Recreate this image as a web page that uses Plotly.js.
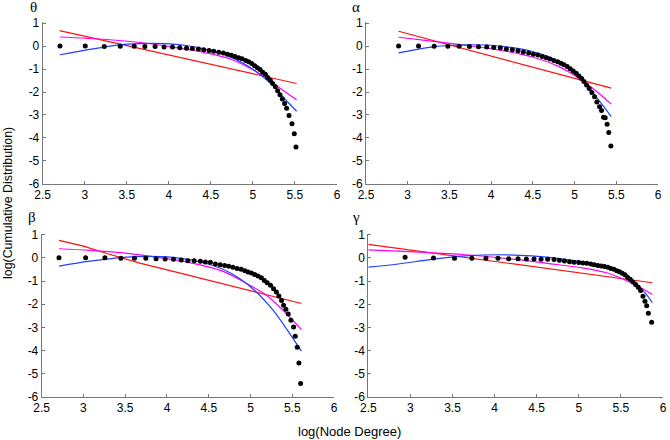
<!DOCTYPE html>
<html>
<head>
<meta charset="utf-8">
<script src="https://cdn.plot.ly/plotly-3.0.1.min.js"></script>
<style>html,body{margin:0;padding:0;background:#fff}#chart{width:670px;height:440px}</style>
</head>
<body>
<div id="chart"></div>
<script>
// ---- tick labels ----
var xTickVals = [2.5, 3, 3.5, 4, 4.5, 5, 5.5, 6];
var xTickText = ["2.5", "3", "3.5", "4", "4.5", "5", "5.5", "6"];
var yTickVals = [-6, -5, -4, -3, -2, -1, 0, 1];
var yTickText = ["-6", "-5", "-4", "-3", "-2", "-1", "0", "1"];
var panelTitles = ["θ", "α", "β", "γ"];

// ---- theta ----
var thetaX = [2.705,3.006,3.232,3.422,3.588,3.715,3.837,3.944,4.043,4.13,4.21,4.28,4.352,4.415,4.479,4.534,4.594,4.649,4.697,4.744,4.788,4.831,4.871,4.914,4.95,4.986,5.021,5.053,5.085,5.116,5.148,5.176,5.207,5.235,5.267,5.294,5.322,5.35,5.377,5.401,5.429,5.465,5.492,5.512];
var thetaY = [0.01,0.01,-0.01,0,0,-0.01,-0.01,-0.04,-0.04,-0.07,-0.09,-0.10,-0.12,-0.16,-0.19,-0.22,-0.26,-0.30,-0.35,-0.40,-0.45,-0.51,-0.55,-0.62,-0.68,-0.76,-0.85,-0.94,-1.02,-1.14,-1.23,-1.37,-1.49,-1.63,-1.77,-1.95,-2.12,-2.31,-2.50,-2.71,-3.02,-3.39,-3.82,-4.40];
var thetaRedX = [2.7, 4.0, 5.52];
var thetaRedY = [0.68, -0.385, -1.63];
var thetaMagX = [2.705,3.26,3.656,4.043,4.44,4.755,4.99,5.15,5.31,5.52];
var thetaMagY = [0.40,0.29,0.16,-0.04,-0.29,-0.59,-1.01,-1.37,-1.80,-2.34];
var thetaBlueX = [2.705,3.06,3.418,3.656,3.93,4.21,4.44,4.69,4.93,5.08,5.24,5.4,5.52];
var thetaBlueY = [-0.375,-0.14,0.06,0.115,0.115,0.03,-0.14,-0.40,-0.84,-1.23,-1.73,-2.38,-2.84];

// ---- alpha ----
var alphaX = [2.891,3.13,3.317,3.481,3.616,3.74,3.848,3.947,4.031,4.11,4.182,4.254,4.322,4.386,4.45,4.506,4.561,4.613,4.661,4.705,4.753,4.797,4.836,4.872,4.912,4.948,4.984,5.02,5.052,5.084,5.112,5.144,5.175,5.207,5.24,5.267,5.3,5.323,5.347,5.367,5.39,5.41,5.435];
var alphaY = [0.01,0.01,0,0,0,-0.01,-0.03,-0.04,-0.06,-0.07,-0.12,-0.16,-0.20,-0.25,-0.30,-0.35,-0.39,-0.45,-0.51,-0.56,-0.62,-0.68,-0.75,-0.81,-0.89,-0.98,-1.08,-1.18,-1.30,-1.41,-1.54,-1.69,-1.85,-2.02,-2.21,-2.44,-2.64,-2.81,-3.10,-3.12,-3.41,-3.77,-4.35];
var alphaRedX = [2.891, 5.44];
var alphaRedY = [0.65, -1.83];
var alphaMagX = [2.891,3.285,3.684,4.083,4.482,4.8,5.04,5.28,5.44];
var alphaMagY = [0.39,0.22,0.04,-0.16,-0.46,-0.87,-1.37,-2.02,-2.53];
var alphaBlueX = [2.891,3.285,3.525,3.684,4.003,4.2,4.48,4.72,4.96,5.12,5.28,5.44];
var alphaBlueY = [-0.29,-0.04,0.04,0.06,0.04,-0.04,-0.22,-0.51,-1.08,-1.59,-2.31,-3.07];

// ---- beta ----
var betaX = [2.707,3.026,3.257,3.448,3.611,3.747,3.87,3.978,4.078,4.17,4.25,4.326,4.40,4.46,4.52,4.58,4.637,4.69,4.74,4.79,4.84,4.888,4.932,4.97,5.01,5.05,5.09,5.13,5.166,5.2,5.24,5.276,5.31,5.34,5.372,5.396,5.424,5.452,5.484,5.516,5.536,5.56,5.58,5.6];
var betaY = [0.01,0.01,0.01,-0.01,-0.01,-0.01,-0.03,-0.04,-0.06,-0.09,-0.12,-0.12,-0.14,-0.17,-0.19,-0.26,-0.29,-0.33,-0.36,-0.40,-0.45,-0.49,-0.55,-0.61,-0.65,-0.71,-0.78,-0.86,-0.97,-1.07,-1.18,-1.33,-1.47,-1.64,-1.84,-2.05,-2.22,-2.42,-2.69,-2.98,-3.39,-3.86,-4.54,-5.43];
var betaRedX = [2.707,3.0,3.3,3.675,4.074,4.87,5.61];
var betaRedY = [0.76,0.51,0.17,-0.22,-0.58,-1.30,-1.97];
var betaMagX = [2.707,3.078,3.476,3.874,4.27,4.67,4.99,5.19,5.39,5.61];
var betaMagY = [0.40,0.33,0.22,0.04,-0.20,-0.58,-1.18,-1.61,-2.26,-3.10];
var betaBlueX = [2.707,3.078,3.476,3.755,4.074,4.27,4.47,4.67,4.87,5.07,5.27,5.47,5.61];
var betaBlueY = [-0.35,-0.14,0.03,0.07,0.03,-0.07,-0.24,-0.49,-0.89,-1.47,-2.26,-3.27,-4.03];

// ---- gamma ----
var gammaX = [2.937,3.274,3.524,3.73,3.897,4.04,4.167,4.278,4.377,4.468,4.552,4.63,4.706,4.77,4.83,4.89,4.944,5.0,5.048,5.095,5.143,5.183,5.226,5.266,5.306,5.345,5.381,5.417,5.452,5.484,5.516,5.548,5.579,5.611,5.643,5.675,5.706,5.734,5.762,5.786,5.806,5.826,5.865];
var gammaY = [0.03,0,-0.01,-0.01,-0.01,-0.01,-0.03,-0.03,-0.04,-0.04,-0.06,-0.06,-0.07,-0.10,-0.13,-0.16,-0.19,-0.20,-0.22,-0.23,-0.26,-0.29,-0.32,-0.35,-0.37,-0.40,-0.45,-0.49,-0.55,-0.60,-0.66,-0.73,-0.83,-0.92,-1.04,-1.15,-1.27,-1.41,-1.65,-1.87,-2.07,-2.39,-2.78];
var gammaRedX = [2.5, 5.873];
var gammaRedY = [0.59, -1.07];
var gammaMagX = [2.5,3.056,3.65,4.246,4.643,5.04,5.317,5.556,5.754,5.873];
var gammaMagY = [0.35,0.26,0.14,-0.06,-0.24,-0.43,-0.63,-0.96,-1.32,-1.58];
var gammaBlueX = [2.5,2.857,3.254,3.65,4.048,4.444,4.84,5.238,5.476,5.635,5.794,5.873];
var gammaBlueY = [-0.40,-0.26,-0.06,0.09,0.14,0.09,-0.06,-0.32,-0.60,-0.96,-1.54,-1.93];

var panels = [
  {dx: thetaX, dy: thetaY, rx: thetaRedX, ry: thetaRedY, mx: thetaMagX, my: thetaMagY, bx: thetaBlueX, by: thetaBlueY},
  {dx: alphaX, dy: alphaY, rx: alphaRedX, ry: alphaRedY, mx: alphaMagX, my: alphaMagY, bx: alphaBlueX, by: alphaBlueY},
  {dx: betaX, dy: betaY, rx: betaRedX, ry: betaRedY, mx: betaMagX, my: betaMagY, bx: betaBlueX, by: betaBlueY},
  {dx: gammaX, dy: gammaY, rx: gammaRedX, ry: gammaRedY, mx: gammaMagX, my: gammaMagY, bx: gammaBlueX, by: gammaBlueY}
];

var W = 670, H = 440;
// pixel boxes [left, right, top, bottom]
var boxes = [
  [42.7, 337, 22.1, 183.7],
  [366, 658, 22.1, 183.7],
  [41.7, 334, 233.7, 396.7],
  [368.3, 663, 233.7, 396.7]
];
var titlePos = [[33, 7], [356, 7], [32, 217], [356, 217]];

var traces = [];
var layout = {
  width: W, height: H,
  margin: {l: 0, r: 0, t: 0, b: 0},
  paper_bgcolor: '#ffffff', plot_bgcolor: '#ffffff',
  showlegend: false,
  font: {family: 'Liberation Sans, Arial, sans-serif', size: 12, color: '#000'},
  annotations: []
};

panels.forEach(function (p, i) {
  var n = i + 1;
  var xa = n === 1 ? 'x' : 'x' + n;
  var ya = n === 1 ? 'y' : 'y' + n;
  var b = boxes[i];
  layout['xaxis' + (n === 1 ? '' : n)] = {
    domain: [b[0] / W, b[1] / W], anchor: ya,
    range: [2.5, 6], tickvals: xTickVals, ticktext: xTickText,
    showgrid: false, zeroline: false, showline: true, linecolor: '#777', linewidth: 1,
    ticks: 'inside', ticklen: 3, tickcolor: '#777',
    tickfont: {size: 12, color: '#000'}, fixedrange: true
  };
  layout['yaxis' + (n === 1 ? '' : n)] = {
    domain: [1 - b[3] / H, 1 - b[2] / H], anchor: xa,
    range: [-6, 1.05], tickvals: yTickVals, ticktext: yTickText,
    showgrid: false, zeroline: false, showline: true, linecolor: '#777', linewidth: 1,
    ticks: 'inside', ticklen: 3, tickcolor: '#777',
    tickfont: {size: 12, color: '#000'}, fixedrange: true
  };
  traces.push({x: p.rx, y: p.ry, xaxis: xa, yaxis: ya, mode: 'lines', line: {color: '#ff1010', width: 1.2}, hoverinfo: 'skip'});
  traces.push({x: p.mx, y: p.my, xaxis: xa, yaxis: ya, mode: 'lines', line: {color: '#ff00ff', width: 1.2, shape: 'spline'}, hoverinfo: 'skip'});
  traces.push({x: p.bx, y: p.by, xaxis: xa, yaxis: ya, mode: 'lines', line: {color: '#2040ff', width: 1.2, shape: 'spline'}, hoverinfo: 'skip'});
  traces.push({x: p.dx, y: p.dy, xaxis: xa, yaxis: ya, mode: 'markers', marker: {color: '#000', size: 5}, hoverinfo: 'skip'});
  layout.annotations.push({
    text: panelTitles[i], xref: 'paper', yref: 'paper',
    x: titlePos[i][0] / W, y: 1 - titlePos[i][1] / H,
    xanchor: 'center', yanchor: 'middle', showarrow: false,
    font: {family: 'Liberation Serif, Times New Roman, serif', size: 15, color: '#000'}
  });
});

layout.annotations.push({
  text: 'log(Cumulative Distribution)', xref: 'paper', yref: 'paper',
  x: 8 / W, y: 1 - 203 / H, textangle: -90, showarrow: false,
  xanchor: 'center', yanchor: 'middle',
  font: {family: 'Liberation Sans, Arial, sans-serif', size: 12.4, color: '#000'}
});
layout.annotations.push({
  text: 'log(Node Degree)', xref: 'paper', yref: 'paper',
  x: 350 / W, y: 1 - 431 / H, showarrow: false,
  xanchor: 'center', yanchor: 'middle',
  font: {family: 'Liberation Sans, Arial, sans-serif', size: 13, color: '#000'}
});

Plotly.newPlot('chart', traces, layout, {staticPlot: true, displayModeBar: false});
</script>
</body>
</html>
